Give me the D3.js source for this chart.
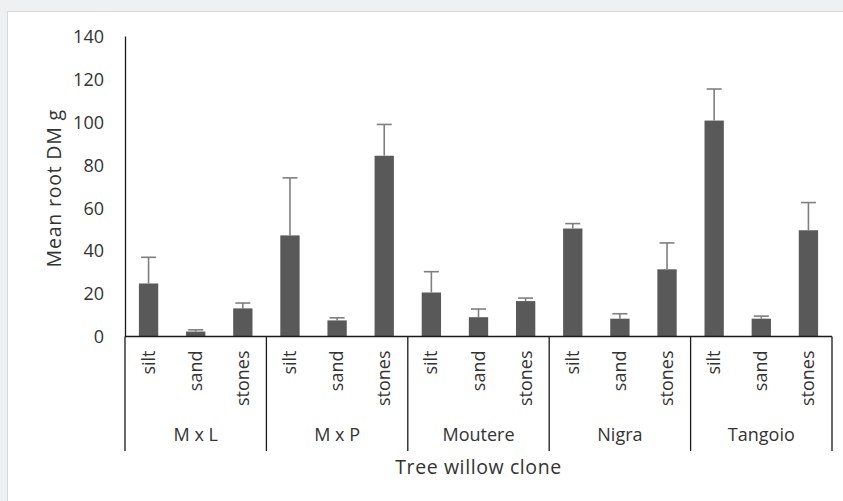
<!DOCTYPE html>
<html><head><meta charset="utf-8">
<script src="https://cdn.jsdelivr.net/npm/d3@7"></script>
<style>
html,body{margin:0;padding:0;background:#eff0f2;}
svg{display:block;}
text{font-family:"Open Sans","Noto Sans",sans-serif;fill:#333;}
</style></head>
<body>
<svg id="chart" width="843" height="501"></svg>
<script>
const clones = ["M x L", "M x P", "Moutere", "Nigra", "Tangoio"];
const substrates = ["silt", "sand", "stones"];
const meanSilt   = [24.7, 47.1, 20.5, 50.3, 100.6];
const meanSand   = [2.3, 7.5, 9.0, 8.3, 8.3];
const meanStones = [13.1, 84.2, 16.5, 31.3, 49.5];
const upperSilt   = [36.9, 73.9, 30.2, 52.6, 115.3];
const upperSand   = [3.1, 8.7, 12.8, 10.6, 9.5];
const upperStones = [15.6, 98.8, 17.9, 43.6, 62.4];
const yTicks = [0, 20, 40, 60, 80, 100, 120, 140];

const rows = [];
clones.forEach((c, i) => {
  rows.push({clone: c, sub: "silt", v: meanSilt[i], u: upperSilt[i]});
  rows.push({clone: c, sub: "sand", v: meanSand[i], u: upperSand[i]});
  rows.push({clone: c, sub: "stones", v: meanStones[i], u: upperStones[i]});
});

const svg = d3.select("#chart");
// chart area (white panel)
svg.append("rect").attr("x", 7.5).attr("y", 11.5).attr("width", 850).attr("height", 500)
  .attr("fill", "#fff").attr("stroke", "#d9d9d9").attr("stroke-width", 1);

const x0 = 125, x1 = 832, yBase = 336.5, yTop = 36, yBottom = 451;
const gx = d3.scaleBand().domain(clones).range([x0, x1]).padding(0);
const sx = d3.scaleBand().domain(substrates).range([0, gx.bandwidth()]).padding(0);
const y = d3.scaleLinear().domain([0, 140]).range([yBase, yTop]);
const barW = sx.bandwidth() * 0.41;

const g = svg.append("g");

// y axis
const yAxis = d3.axisLeft(y).tickValues(yTicks).tickSize(0).tickPadding(21);
const ya = g.append("g").attr("transform", `translate(${x0},0)`).call(yAxis);
ya.select(".domain").attr("stroke", "#1a1a1a").attr("stroke-width", 1.3);
ya.selectAll("text").style("font-size", "18px").attr("fill", "#333").attr("dy", "0.35em")
  .style("font-family", '"Open Sans","Noto Sans",sans-serif');

// bars
g.selectAll("rect.bar").data(rows).enter().append("rect").attr("class", "bar")
  .attr("x", d => gx(d.clone) + sx(d.sub) + sx.bandwidth() / 2 - barW / 2)
  .attr("y", d => y(d.v))
  .attr("width", barW)
  .attr("height", d => y(0) - y(d.v))
  .attr("fill", "#595959");

// error bars
const eb = g.selectAll("g.err").data(rows).enter().append("g").attr("class", "err");
eb.append("line")
  .attr("x1", d => gx(d.clone) + sx(d.sub) + sx.bandwidth() / 2)
  .attr("x2", d => gx(d.clone) + sx(d.sub) + sx.bandwidth() / 2)
  .attr("y1", d => y(d.v)).attr("y2", d => y(d.u))
  .attr("stroke", "#7f7f7f").attr("stroke-width", 1.6);
eb.append("line")
  .attr("x1", d => gx(d.clone) + sx(d.sub) + sx.bandwidth() / 2 - 7.5)
  .attr("x2", d => gx(d.clone) + sx(d.sub) + sx.bandwidth() / 2 + 7.5)
  .attr("y1", d => y(d.u)).attr("y2", d => y(d.u))
  .attr("stroke", "#7f7f7f").attr("stroke-width", 1.6);

// x axis baseline
g.append("line").attr("x1", x0).attr("x2", x1).attr("y1", yBase).attr("y2", yBase)
  .attr("stroke", "#1a1a1a").attr("stroke-width", 1.3);

// group dividers
const bounds = clones.map(c => gx(c)).concat([x1]);
g.selectAll("line.div").data(bounds).enter().append("line").attr("class", "div")
  .attr("x1", d => d).attr("x2", d => d).attr("y1", yBase).attr("y2", yBottom)
  .attr("stroke", "#1a1a1a").attr("stroke-width", 1.3);

// substrate labels
g.selectAll("text.sub").data(rows).enter().append("text").attr("class", "sub")
  .attr("transform", d => `translate(${gx(d.clone) + sx(d.sub) + sx.bandwidth() / 2 + 6},${yBase + 14}) rotate(-90)`)
  .attr("text-anchor", "end")
  .style("font-size", "18px")
  .text(d => d.sub);

// clone labels
g.selectAll("text.clone").data(clones).enter().append("text").attr("class", "clone")
  .attr("x", d => gx(d) + gx.bandwidth() / 2).attr("y", 441)
  .attr("text-anchor", "middle").style("font-size", "18px")
  .text(d => d);

// axis titles
g.append("text").attr("x", (x0 + x1) / 2).attr("y", 474).attr("text-anchor", "middle")
  .style("font-size", "19.5px").style("letter-spacing", "0.6px").text("Tree willow clone");
g.append("text").attr("transform", `translate(61,${(yTop + yBase) / 2 + 2}) rotate(-90)`)
  .attr("text-anchor", "middle").style("font-size", "19.5px").style("letter-spacing", "0.8px")
  .text("Mean root DM g");
</script>
</body></html>
